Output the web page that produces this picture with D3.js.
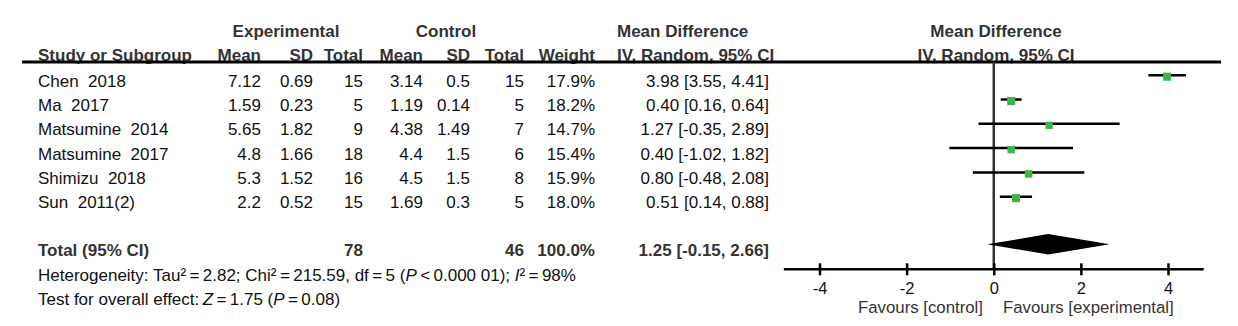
<!DOCTYPE html>
<html>
<head>
<meta charset="utf-8">
<script src="https://cdn.jsdelivr.net/npm/d3@7"></script>
<style>
  html, body { margin: 0; padding: 0; background: #fff; }
  svg { display: block; font-family: "Liberation Sans", Arial, sans-serif; }
  svg text { white-space: pre; }
</style>
</head>
<body>
<svg id="chart" width="1238" height="326"></svg>
<script>
// ---------- data ----------
const studies   = ["Chen  2018", "Ma  2017", "Matsumine  2014", "Matsumine  2017", "Shimizu  2018", "Sun  2011(2)"];
const expMean   = [7.12, 1.59, 5.65, 4.8, 5.3, 2.2];
const expSD     = [0.69, 0.23, 1.82, 1.66, 1.52, 0.52];
const expTotal  = [15, 5, 9, 18, 16, 15];
const ctrlMean  = [3.14, 1.19, 4.38, 4.4, 4.5, 1.69];
const ctrlSD    = [0.5, 0.14, 1.49, 1.5, 1.5, 0.3];
const ctrlTotal = [15, 5, 7, 6, 8, 5];
const weights   = [17.9, 18.2, 14.7, 15.4, 15.9, 18.0];
const mdValue   = [3.98, 0.40, 1.27, 0.40, 0.80, 0.51];
const ciLow     = [3.55, 0.16, -0.35, -1.02, -0.48, 0.14];
const ciHigh    = [4.41, 0.64, 2.89, 1.82, 2.08, 0.88];
const totalExpN = 78;
const totalCtrlN = 46;
const totalWeight = 100.0;
const totalMD   = 1.25;
const totalLow  = -0.15;
const totalHigh = 2.66;
const axisTicks = [-4, -2, 0, 2, 4];
const axisExtent = [-4.82, 4.82];

// ---------- layout ----------
const svg = d3.select("#chart");
const FS = 17;
const headColor = "#333";
const textColor = "#111";
const green = "#3db54a";

const x = d3.scaleLinear().domain([-4, 4]).range([819.5, 1168]);
const rowIdx = d3.range(studies.length);
const rowBase = d3.scaleLinear().domain([0, 1]).range([86.7, 111]); // text baselines
const markOffset = -11.5;

const cols = {
  study: 38, expMean: 261, expSD: 313, expTotal: 363,
  ctrlMean: 423, ctrlSD: 470, ctrlTotal: 524, weight: 595, md: 769
};

function txt(g, xx, yy, s, opt = {}) {
  return g.append("text")
    .attr("x", xx).attr("y", yy)
    .attr("font-size", opt.size || FS)
    .attr("font-weight", opt.bold ? "bold" : "normal")
    .attr("fill", opt.color || textColor)
    .attr("text-anchor", opt.anchor || "start")
    .text(s);
}
const f2 = v => v.toFixed(2);
const ci = (m, l, h) => `${f2(m)} [${f2(l)}, ${f2(h)}]`;

// headers
const hb = { bold: true, color: headColor };
txt(svg, 286, 37, "Experimental", { ...hb, anchor: "middle" });
txt(svg, 446, 37, "Control", { ...hb, anchor: "middle" });
txt(svg, 617, 37, "Mean Difference", hb);
txt(svg, 996, 37, "Mean Difference", { ...hb, anchor: "middle" });

const h2 = 60.5;
txt(svg, cols.study, h2, "Study or Subgroup", hb);
txt(svg, cols.expMean, h2, "Mean", { ...hb, anchor: "end" });
txt(svg, cols.expSD, h2, "SD", { ...hb, anchor: "end" });
txt(svg, cols.expTotal, h2, "Total", { ...hb, anchor: "end" });
txt(svg, cols.ctrlMean, h2, "Mean", { ...hb, anchor: "end" });
txt(svg, cols.ctrlSD, h2, "SD", { ...hb, anchor: "end" });
txt(svg, cols.ctrlTotal, h2, "Total", { ...hb, anchor: "end" });
txt(svg, cols.weight, h2, "Weight", { ...hb, anchor: "end" });
txt(svg, 617, h2, "IV, Random, 95% CI", hb);
txt(svg, 996, h2, "IV, Random, 95% CI", { ...hb, anchor: "middle" });

// thick header rule
svg.append("line").attr("x1", 22).attr("x2", 1221).attr("y1", 62).attr("y2", 62)
  .attr("stroke", "#000").attr("stroke-width", 3);

// study rows
const rows = svg.append("g");
rowIdx.forEach(i => {
  const y = rowBase(i);
  txt(rows, cols.study, y, studies[i]);
  txt(rows, cols.expMean, y, String(expMean[i]), { anchor: "end" });
  txt(rows, cols.expSD, y, String(expSD[i]), { anchor: "end" });
  txt(rows, cols.expTotal, y, String(expTotal[i]), { anchor: "end" });
  txt(rows, cols.ctrlMean, y, String(ctrlMean[i]), { anchor: "end" });
  txt(rows, cols.ctrlSD, y, String(ctrlSD[i]), { anchor: "end" });
  txt(rows, cols.ctrlTotal, y, String(ctrlTotal[i]), { anchor: "end" });
  txt(rows, cols.weight, y, weights[i].toFixed(1) + "%", { anchor: "end" });
  txt(rows, cols.md, y, ci(mdValue[i], ciLow[i], ciHigh[i]), { anchor: "end" });
});

// total row
const tb = 256;
const tbo = { bold: true, color: headColor };
txt(svg, cols.study, tb, "Total (95% CI)", tbo);
txt(svg, cols.expTotal, tb, String(totalExpN), { ...tbo, anchor: "end" });
txt(svg, cols.ctrlTotal, tb, String(totalCtrlN), { ...tbo, anchor: "end" });
txt(svg, cols.weight, tb, totalWeight.toFixed(1) + "%", { ...tbo, anchor: "end" });
txt(svg, cols.md, tb, ci(totalMD, totalLow, totalHigh), { ...tbo, anchor: "end" });

// heterogeneity & overall effect
const ts = "\u2009";
const het = svg.append("text").attr("x", cols.study).attr("y", 281).attr("font-size", FS).attr("fill", textColor);
[["Heterogeneity: Tau²" + ts + "=" + ts + "2.82; Chi²" + ts + "=" + ts + "215.59, df" + ts + "=" + ts + "5 (", false],
 ["P", true], [ts + "<" + ts + "0.000 01); ", false], ["I", true], ["²" + ts + "=" + ts + "98%", false]]
  .forEach(([s, it]) => het.append("tspan").attr("font-style", it ? "italic" : "normal").text(s));

const te = svg.append("text").attr("x", cols.study).attr("y", 305).attr("font-size", FS).attr("fill", textColor);
[["Test for overall effect:" + ts, false], ["Z", true], [ts + "=" + ts + "1.75 (", false], ["P", true], [ts + "=" + ts + "0.08)", false]]
  .forEach(([s, it]) => te.append("tspan").attr("font-style", it ? "italic" : "normal").text(s));

// ---------- forest plot ----------
const axisY = 269.3;
const plot = svg.append("g");

// zero line
plot.append("line").attr("x1", x(0)).attr("x2", x(0)).attr("y1", 62).attr("y2", axisY)
  .attr("stroke", "#333").attr("stroke-width", 2.5);

// CI lines
rowIdx.forEach(i => {
  const y = rowBase(i) + markOffset;
  plot.append("line").attr("x1", x(ciLow[i])).attr("x2", x(ciHigh[i]))
    .attr("y1", y).attr("y2", y).attr("stroke", "#000").attr("stroke-width", 2.5);
});
// squares
const side = w => 1.9 * Math.sqrt(w);
rowIdx.forEach(i => {
  const y = rowBase(i) + markOffset + 1.5;
  const s = side(weights[i]);
  plot.append("rect").attr("x", x(mdValue[i]) - s / 2).attr("y", y - s / 2)
    .attr("width", s).attr("height", s).attr("fill", green);
});

// diamond
const dy = 244.3, dh = 10.2;
plot.append("path")
  .attr("d", `M${x(totalLow)},${dy} L${x(totalMD)},${dy - dh} L${x(totalHigh)},${dy} L${x(totalMD)},${dy + dh} Z`)
  .attr("fill", "#000");

// axis
const axis = d3.axisBottom(x).tickValues(axisTicks).tickSize(6).tickFormat(d => String(d));
const ag = plot.append("g").attr("transform", `translate(0,${axisY})`).call(axis);
ag.select(".domain").remove();
ag.append("line").attr("x1", x(axisExtent[0])).attr("x2", x(axisExtent[1]))
  .attr("stroke", "#000").attr("stroke-width", 2.5);
ag.selectAll(".tick line").attr("y1", -6).attr("y2", 6).attr("stroke", "#000").attr("stroke-width", 2.5);
ag.selectAll(".tick text").attr("font-size", 16.5).attr("fill", textColor)
  .attr("font-family", "Liberation Sans, Arial, sans-serif").attr("dy", null).attr("y", 25);

txt(plot, 983, 313, "Favours [control]", { size: 16.8, color: headColor, anchor: "end" });
txt(plot, 1003, 313, "Favours [experimental]", { size: 16.8, color: headColor });
</script>
</body>
</html>
